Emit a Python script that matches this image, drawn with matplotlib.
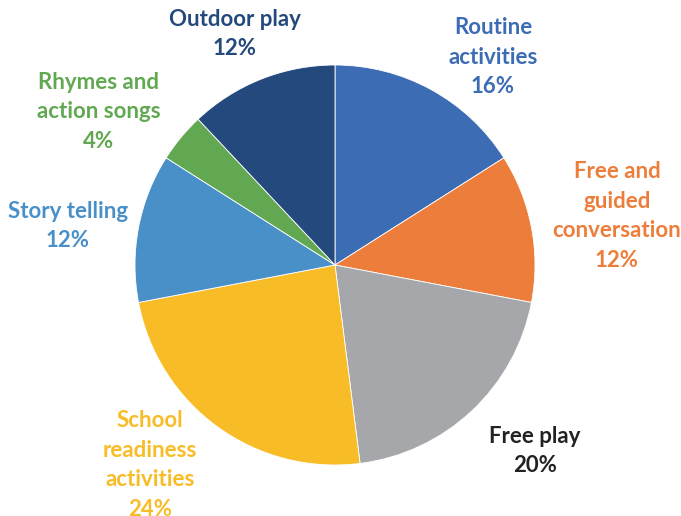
import matplotlib
matplotlib.use("Agg")
import matplotlib.pyplot as plt

# Share of time spent on each activity
categories = ["Routine\nactivities", "Free and\nguided\nconversation", "Free play",
              "School\nreadiness\nactivities", "Story telling",
              "Rhymes and\naction songs", "Outdoor play"]
shares = [16, 12, 20, 24, 12, 4, 12]

slice_colors = ["#3C6DB4", "#ED7D3A", "#A6A7AB", "#F8BC27", "#4A90C8", "#62A852", "#24497D"]
label_colors = ["#3C6DB4", "#ED7D3A", "#222222", "#F8BC27", "#4A90C8", "#62A852", "#24497D"]
# label centres in pixel space (x, y from top)
label_pos = [(493, 57), (617, 216), (535, 451), (150, 465), (68, 226), (99, 112), (235, 34)]

W, H = 681, 516
fig = plt.figure(figsize=(W / 100, H / 100), dpi=100)
ax = fig.add_axes([0, 0, 1, 1])

ax.pie(shares, colors=slice_colors, startangle=90, counterclock=False,
       center=(335, H - 265), radius=200, frame=True,
       wedgeprops=dict(edgecolor="white", linewidth=0.6))
ax.set_xlim(0, W)
ax.set_ylim(0, H)
ax.set_aspect("equal")
ax.axis("off")

for name, val, col, (x, y) in zip(categories, shares, label_colors, label_pos):
    ax.text(x, H - y, f"{name}\n{val}%", ha="center", va="center", color=col,
            fontsize=16, fontweight="bold", family=["Lato", "DejaVu Sans"],
            linespacing=1.5)

fig.savefig("out.png", dpi=100)
